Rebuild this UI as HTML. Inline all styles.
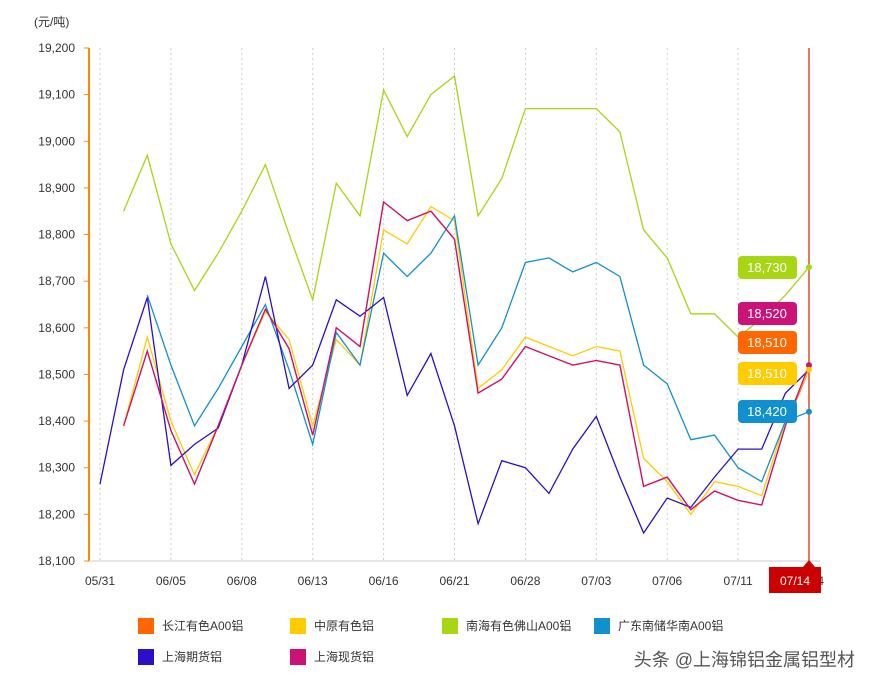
<!DOCTYPE html>
<html><head><meta charset="utf-8"><style>
body{margin:0;background:#fff;font-family:"Liberation Sans","Noto Sans CJK SC",sans-serif}
svg text{font-family:"Liberation Sans","Noto Sans CJK SC",sans-serif}
</style></head><body>
<svg id="c" width="874" height="688" viewBox="0 0 874 688"></svg>
<script>
const categories=['05/31','06/01','06/02','06/03','06/05','06/06','06/07','06/08','06/09','06/12','06/13','06/14','06/16','06/19','06/20','06/21','06/23','06/26','06/28','06/29','06/30','07/03','07/04','07/05','07/06','07/07','07/10','07/11','07/12','07/13','07/14'];
const tickLabels=['05/31','06/05','06/08','06/13','06/16','06/21','06/28','07/03','07/06','07/11','07/14'];
const tickIdx=[0,3,6,9,12,15,18,21,24,27,30];
const yTicks=[18100,18200,18300,18400,18500,18600,18700,18800,18900,19000,19100,19200];
const names=['长江有色A00铝','中原有色铝','南海有色佛山A00铝','广东南储华南A00铝','上海期货铝','上海现货铝'];
const colors=['#ff6600','#ffcc00','#a8d514','#1190d0','#2a10c8','#cc1177'];
const sChangjiang=[null,18390,18550,18380,18265,18390,18520,18640,18555,18370,18600,18560,18870,18830,18850,18790,18460,18490,18560,18540,18520,18530,18520,18260,18280,18210,18250,18230,18220,18390,18510];
const sZhongyuan=[null,18390,18580,18400,18285,18390,18520,18635,18575,18390,18575,18520,18810,18780,18860,18830,18470,18510,18580,18560,18540,18560,18550,18320,18270,18200,18270,18260,18240,18400,18510];
const sNanhai=[null,18850,18970,18780,18680,18760,18850,18950,18800,18660,18910,18840,19110,19010,19100,19140,18840,18920,19070,19070,19070,19070,19020,18810,18750,18630,18630,18580,18620,18670,18730];
const sGuangdong=[null,null,18670,18520,18390,18470,18560,18650,18510,18350,18590,18520,18760,18710,18760,18840,18520,18600,18740,18750,18720,18740,18710,18520,18480,18360,18370,18300,18270,18400,18420];
const sFutures=[18265,18510,18665,18305,18350,18385,18520,18710,18470,18520,18660,18625,18665,18455,18545,18390,18180,18315,18300,18245,18340,18410,18280,18160,18235,18215,18280,18340,18340,18460,18510];
const sSpot=[null,18390,18550,18380,18265,18390,18520,18640,18555,18370,18600,18560,18870,18830,18850,18790,18460,18490,18560,18540,18520,18530,18520,18260,18280,18210,18250,18230,18220,18390,18520];
const lastLabels=[18730,18520,18510,18510,18420];
const series=[sChangjiang,sZhongyuan,sNanhai,sGuangdong,sFutures,sSpot];
const svg=document.getElementById('c');const NS='http://www.w3.org/2000/svg';
const X0=100,X1=809,Y0=561,Y1=48,vmin=18100,vmax=19200;
const xs=i=>X0+(X1-X0)*i/(categories.length-1);
const ys=v=>Y0-(v-vmin)/(vmax-vmin)*(Y0-Y1);
function mk(t,a,txt){const e=document.createElementNS(NS,t);for(const k in a)e.setAttribute(k,a[k]);if(txt!=null)e.textContent=txt;svg.appendChild(e);return e;}
let e=mk('text',{x:34,y:26,'font-size':12,fill:'#333'},'(元/吨)');


yTicks.forEach(v=>{
  const t=mk('text',{x:75,y:ys(v)+4,'font-size':12,fill:'#333','text-anchor':'end'},v.toLocaleString('en-US'));
  
  
  const l=mk('line',{x1:84,x2:89,y1:ys(v),y2:ys(v),stroke:'#ff8800'});
  
  
});
tickIdx.forEach((i,k)=>{
  const x=xs(i);
  if(i<30){const g=mk('line',{x1:x,x2:x,y1:Y1,y2:Y0,stroke:'#ccc','stroke-dasharray':'2,3'});
  
  }
  const t=mk('text',{x:x,y:585,'font-size':12,fill:'#333','text-anchor':'middle'},tickLabels[k]);
  
  
});
e=mk('line',{x1:89,x2:89,y1:Y1,y2:Y0,stroke:'#ff8800','stroke-width':2});


e=mk('line',{x1:89,x2:820,y1:Y0,y2:Y0,stroke:'#ccc'});


const order=[0,1,2,3,4,5];
order.forEach(s=>{
  let d='';series[s].forEach((v,i)=>{if(v==null)return;d+=(d?'L':'M')+xs(i).toFixed(1)+','+ys(v).toFixed(1);});
  const p=mk('path',{d:d,fill:'none',stroke:colors[s],'stroke-width':1.3});
  
  
});
e=mk('line',{x1:X1,x2:X1,y1:Y1,y2:Y0,stroke:'#cc2200','stroke-width':1.2});


// end dots
[[2,'#a8d514'],[5,'#cc1177'],[1,'#ffcc00'],[3,'#1190d0']].forEach(([s,c])=>{
  const v=series[s][30];const d=mk('circle',{cx:X1,cy:ys(v),r:3,fill:c});
  
  
});
const boxColors=['#a8d514','#cc1177','#ff6600','#ffcc00','#1190d0'];
const boxY=[256,302,331,362,400];
lastLabels.forEach((v,k)=>{
  const r=mk('rect',{x:738,y:boxY[k],width:59,height:23,rx:4,fill:boxColors[k]});
  
  
  const t=mk('text',{x:767,y:boxY[k]+16,'font-size':13,fill:'#fff','text-anchor':'middle'},v.toLocaleString('en-US'));
  
  
});
e=mk('rect',{x:769,y:567,width:52,height:26,fill:'#cc0000'});


e=mk('polygon',{points:'803,567 815,567 809,560',fill:'#cc0000'});


e=mk('text',{x:795,y:585,'font-size':12,fill:'#fff','text-anchor':'middle'},'07/14');


const lx=[138,290,442,594,138,290],ly=[626,626,626,626,657,657];
names.forEach((n,k)=>{
  const r=mk('rect',{x:lx[k],y:ly[k]-8,width:16,height:16,fill:colors[k]});
  
  
  const t=mk('text',{x:lx[k]+24,y:ly[k]+4,'font-size':12,fill:'#333'},n);
  
  
});
e=mk('text',{x:855,y:666,'font-size':18,fill:'#555','text-anchor':'end'},'头条 @上海锦铝金属铝型材');


</script>
</body></html>
